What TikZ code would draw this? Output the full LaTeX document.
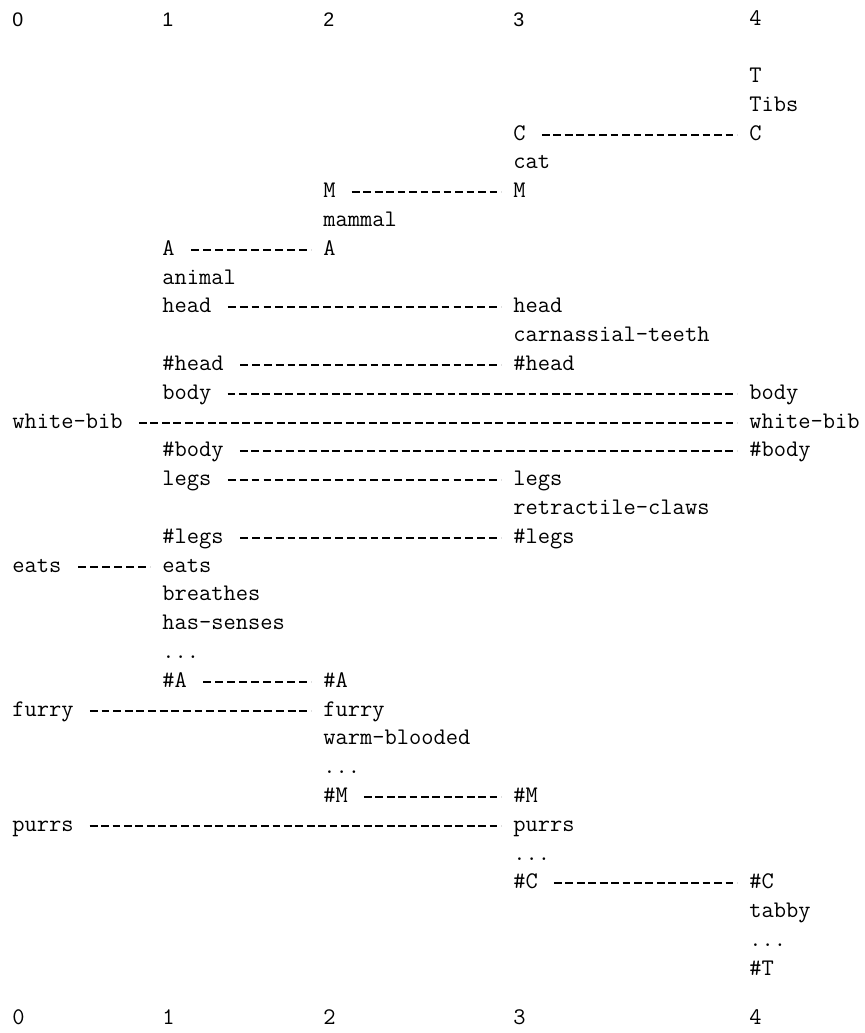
\documentclass[tikz,border=0pt]{standalone}
\usepackage{fontspec}
\usetikzlibrary{decorations}
\newfontfamily\digitfont{Liberation Sans}
\begin{document}
\begin{tikzpicture}[x=0.5pt,y=-0.5pt,
  slot/.style={anchor=west,inner sep=0pt,font=\ttfamily\fontsize{11.9}{14}\selectfont,
    text height=7.7pt,text depth=2pt},
  topnum/.style={anchor=west,inner sep=0pt,font=\digitfont\fontsize{9.8}{11}\selectfont},
  link/.style={line width=0.9pt,dash pattern=on 3.9pt off 1.8pt,dash expand off,
    to path={([xshift=6pt]\tikztostart.east) -- ([xshift=-6pt]\tikztotarget.west)}}]
\useasboundingbox (0,0) rectangle (865,1033);
% column numbers
\node[topnum] (top0) at (12,20) {0};
\node[topnum] (top1) at (162,20) {1};
\node[topnum] (top2) at (323,20) {2};
\node[topnum] (top3) at (513,20) {3};
\node[slot] (top4) at (749,20) {4};
\node[slot] (bot0) at (12,1019) {0};
\node[slot] (bot1) at (162,1019) {1};
\node[slot] (bot2) at (323,1019) {2};
\node[slot] (bot3) at (513,1019) {3};
\node[slot] (bot4) at (749,1019) {4};
% frames
\node[slot] (T) at (749,77) {T};
\node[slot] (Tibs) at (749,106) {Tibs};
\node[slot] (C3) at (513,135) {C};
\node[slot] (C4) at (749,135) {C};
\node[slot] (cat) at (513,163) {cat};
\node[slot] (M2) at (323,192) {M};
\node[slot] (M3) at (513,192) {M};
\node[slot] (mammal) at (323,221) {mammal};
\node[slot] (A1) at (162,250) {A};
\node[slot] (A2) at (323,250) {A};
\node[slot] (animal) at (162,279) {animal};
\node[slot] (head1) at (162,307) {head};
\node[slot] (head3) at (513,307) {head};
\node[slot] (teeth) at (513,336) {carnassial-teeth};
\node[slot] (hhead1) at (162,365) {\#head};
\node[slot] (hhead3) at (513,365) {\#head};
\node[slot] (body1) at (162,394) {body};
\node[slot] (body4) at (749,394) {body};
\node[slot] (bib0) at (12,423) {white-bib};
\node[slot] (bib4) at (749,423) {white-bib};
\node[slot] (hbody1) at (162,451) {\#body};
\node[slot] (hbody4) at (749,451) {\#body};
\node[slot] (legs1) at (162,480) {legs};
\node[slot] (legs3) at (513,480) {legs};
\node[slot] (claws) at (513,509) {retractile-claws};
\node[slot] (hlegs1) at (162,538) {\#legs};
\node[slot] (hlegs3) at (513,538) {\#legs};
\node[slot] (eats0) at (12,567) {eats};
\node[slot] (eats1) at (162,567) {eats};
\node[slot] (breathes) at (162,595) {breathes};
\node[slot] (senses) at (162,624) {has-senses};
\node[slot] (dotsA) at (162,653) {...};
\node[slot] (hA1) at (162,682) {\#A};
\node[slot] (hA2) at (323,682) {\#A};
\node[slot] (furry0) at (12,711) {furry};
\node[slot] (furry2) at (323,711) {furry};
\node[slot] (warm) at (323,739) {warm-blooded};
\node[slot] (dotsM) at (323,768) {...};
\node[slot] (hM2) at (323,797) {\#M};
\node[slot] (hM3) at (513,797) {\#M};
\node[slot] (purrs0) at (12,826) {purrs};
\node[slot] (purrs3) at (513,826) {purrs};
\node[slot] (dotsC) at (513,855) {...};
\node[slot] (hC3) at (513,883) {\#C};
\node[slot] (hC4) at (749,883) {\#C};
\node[slot] (tabby) at (749,912) {tabby};
\node[slot] (dotsT) at (749,941) {...};
\node[slot] (hT) at (749,970) {\#T};
% links
\draw[link] (C3) to (C4);
\draw[link] (M2) to (M3);
\draw[link] (A1) to (A2);
\draw[link] (head1) to (head3);
\draw[link] (hhead1) to (hhead3);
\draw[link] (body1) to (body4);
\draw[link] (bib0) to (bib4);
\draw[link] (hbody1) to (hbody4);
\draw[link] (legs1) to (legs3);
\draw[link] (hlegs1) to (hlegs3);
\draw[link] (eats0) to (eats1);
\draw[link] (hA1) to (hA2);
\draw[link] (furry0) to (furry2);
\draw[link] (hM2) to (hM3);
\draw[link] (purrs0) to (purrs3);
\draw[link] (hC3) to (hC4);
\end{tikzpicture}
\end{document}
